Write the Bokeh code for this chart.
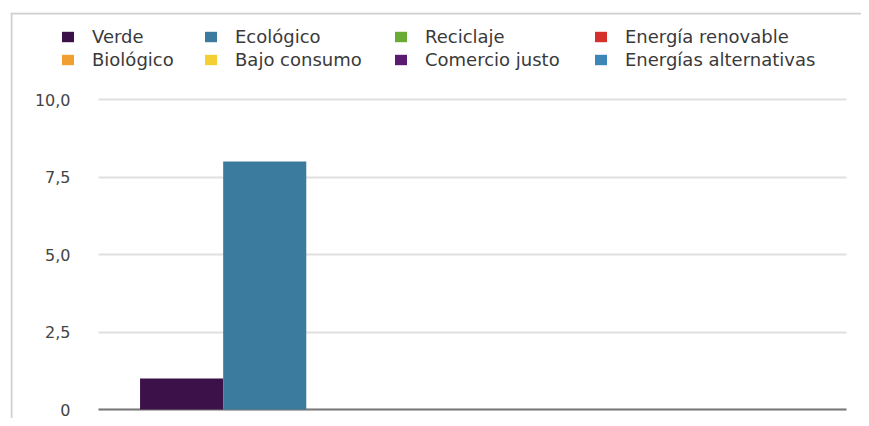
from bokeh.plotting import figure
from bokeh.models import (ColumnDataSource, Range1d, FixedTicker, CustomJSTickFormatter, Grid,
                          Legend, LegendItem, Span)
from bokeh.embed import file_html
from bokeh.resources import INLINE

series = ["Verde", "Ecológico", "Reciclaje", "Energía renovable",
          "Biológico", "Bajo consumo", "Comercio justo", "Energías alternativas"]
values = [1.0, 8.0, 0.0, 0.0, 0.0, 0.0, 0.0, 0.0]
colors = ["#3c1049", "#3b7b9e", "#6aab36", "#d5302b",
          "#efa031", "#f4cf33", "#5b1b70", "#3b86b6"]
y_ticks = [0, 2.5, 5, 7.5, 10]

n = len(series)
src = ColumnDataSource(dict(x=list(range(n)), top=values, color=colors, label=series))

# layout geometry (pixels)
W, H = 861, 418
FRAME_L, FRAME_T = 10, 12
PLOT_L, PLOT_R, Y0, Y10 = 98, 846, 409, 99
PX_X = (PLOT_R - PLOT_L) / (n + 1)
PX_Y = (Y0 - Y10) / 10.0
x_rng = Range1d(-1 - (PLOT_L - FRAME_L) / PX_X, n + (W - PLOT_R) / PX_X)
y_rng = Range1d(-(H - Y0) / PX_Y, 10 + (Y10 - FRAME_T) / PX_Y)

p = figure(x_range=x_rng, y_range=y_rng, width=W, height=H,
           output_backend="svg", toolbar_location=None,
           x_axis_location=None, y_axis_location="left",
           min_border_left=FRAME_L, min_border_top=FRAME_T,
           min_border_right=0, min_border_bottom=0)

r = p.vbar(x="x", top="top", width=1.0, source=src, fill_color="color", line_color=None)

p.xgrid.visible = False
p.ygrid.ticker = FixedTicker(ticks=y_ticks)
p.ygrid.grid_line_color = "#e0e0e0"
p.ygrid.grid_line_width = 2
p.ygrid.cross_bounds = (-1, n)
p.outline_line_color = None

base = Grid(dimension=1, ticker=FixedTicker(ticks=[0]), grid_line_color="#7a7a7a",
            grid_line_width=2, cross_bounds=(-1, n))
p.add_layout(base)

p.yaxis.ticker = FixedTicker(ticks=y_ticks)
p.yaxis.formatter = CustomJSTickFormatter(code="return tick == 0 ? '0' : tick.toFixed(1).replace('.', ',');")
p.yaxis.axis_line_color = None
p.yaxis.major_tick_line_color = None
p.yaxis.minor_tick_line_color = None
p.yaxis.major_tick_out = 0
p.yaxis.major_label_standoff = -60
p.yaxis.major_label_text_font = "DejaVu Sans"
p.yaxis.major_label_text_font_size = "16px"
p.yaxis.major_label_text_color = "#444444"

# box border (top and left)
p.add_layout(Span(location=FRAME_T + 1, location_units="canvas", dimension="width",
                  line_color="#d0d0d0", line_width=2))
p.add_layout(Span(location=FRAME_L + 1, location_units="canvas", dimension="height",
                  line_color="#d0d0d0", line_width=2))

col_x = [50, 193, 383, 583]
for j, vx in enumerate(col_x):
    its = [LegendItem(label=series[k], renderers=[r], index=k) for k in (j, j + 4)]
    lg = Legend(items=its, orientation="vertical", location=(vx, 348),
                padding=0, margin=0, spacing=2,
                label_text_font="DejaVu Sans", label_text_font_size="18px",
                label_text_color="#3a3a3a", glyph_width=15, glyph_height=13,
                label_standoff=17, label_height=21,
                border_line_color=None, background_fill_alpha=0)
    p.add_layout(lg, "center")

open("out.html", "w").write(file_html(p, INLINE))
